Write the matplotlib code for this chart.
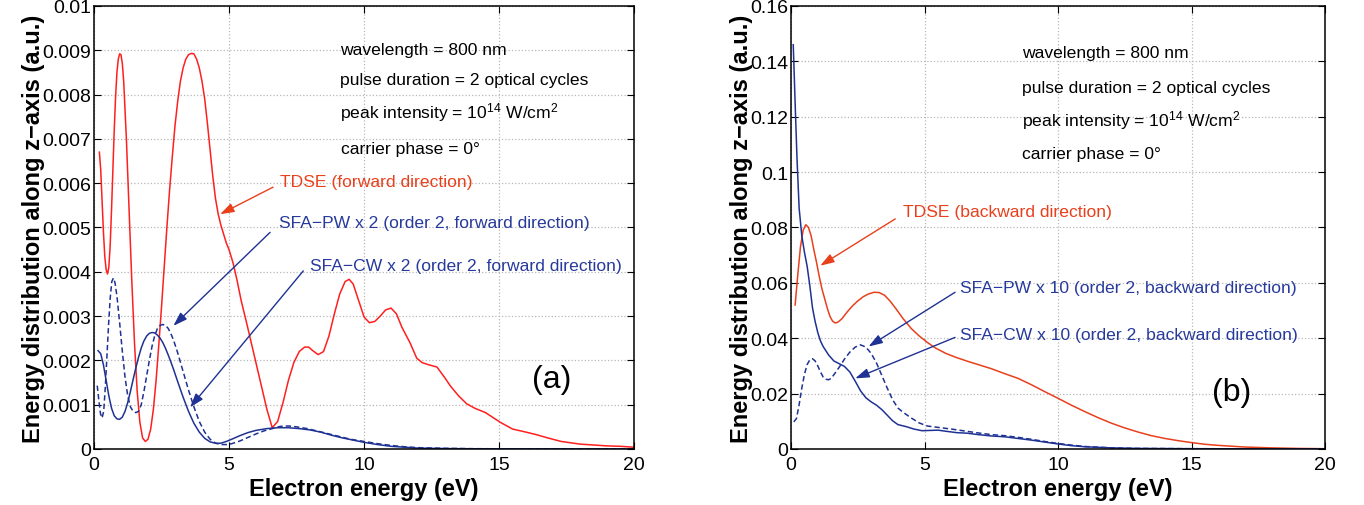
import numpy as np
import matplotlib
matplotlib.use('Agg')
import matplotlib.pyplot as plt

plt.rcParams['font.family'] = ['Liberation Sans', 'DejaVu Sans']
plt.rcParams['mathtext.fontset'] = 'custom'
plt.rcParams['mathtext.rm'] = 'Liberation Sans'
plt.rcParams['mathtext.it'] = 'Liberation Sans:italic'
plt.rcParams['mathtext.bf'] = 'Liberation Sans:bold'

# ---- panel (a): forward direction, y values in units of 1e-3 a.u.
a_tdse_x = [0.20, 0.25, 0.30, 0.35, 0.40, 0.45, 0.50, 0.55, 0.60, 0.65, 0.70, 0.75, 0.80, 0.85,
            0.90, 0.95, 1.00, 1.05, 1.10, 1.20, 1.30, 1.40, 1.50, 1.60, 1.70, 1.80, 1.90, 2.00,
            2.10, 2.20, 2.30, 2.40, 2.50, 2.60, 2.70, 2.80, 2.90, 3.00, 3.10, 3.20, 3.30, 3.40,
            3.50, 3.60, 3.70, 3.80, 3.90, 4.00, 4.10, 4.20, 4.30, 4.40, 4.50, 4.60, 4.70, 4.80,
            4.90, 5.00, 5.15, 5.30, 5.45, 5.65, 5.90, 6.15, 6.40, 6.60, 6.80, 7.00, 7.20, 7.40,
            7.60, 7.80, 7.95, 8.10, 8.30, 8.50, 8.70, 8.90, 9.10, 9.30, 9.45, 9.60, 9.80, 10.00,
            10.20, 10.40, 10.60, 10.80, 11.00, 11.20, 11.40, 11.70, 11.95, 12.15, 12.40, 12.70,
            13.00, 13.20, 13.50, 13.80, 14.10, 14.50, 14.80, 15.05, 15.50, 16.00, 16.40, 16.80,
            17.30, 18.00, 18.50, 19.00, 19.50, 20.00]
a_tdse_y = [6.70, 6.30, 5.60, 4.90, 4.35, 4.05, 3.95, 4.10, 4.60, 5.40, 6.30, 7.20, 7.95, 8.50,
            8.80, 8.92, 8.90, 8.70, 8.30, 7.00, 5.40, 3.80, 2.40, 1.30, 0.60, 0.25, 0.17, 0.22,
            0.45, 0.90, 1.55, 2.35, 3.20, 4.10, 5.00, 5.85, 6.60, 7.30, 7.85, 8.30, 8.60, 8.80,
            8.90, 8.93, 8.92, 8.80, 8.60, 8.30, 7.90, 7.35, 6.75, 6.15, 5.65, 5.30, 5.05, 4.85,
            4.65, 4.50, 4.20, 3.80, 3.35, 2.85, 2.20, 1.55, 0.90, 0.48, 0.62, 1.05, 1.55, 1.95,
            2.20, 2.30, 2.30, 2.22, 2.13, 2.20, 2.55, 3.05, 3.50, 3.78, 3.83, 3.72, 3.35, 2.98,
            2.85, 2.88, 3.00, 3.14, 3.18, 3.05, 2.75, 2.40, 2.05, 1.95, 1.90, 1.85,
            1.60, 1.42, 1.20, 1.02, 0.92, 0.82, 0.70, 0.60, 0.45, 0.38, 0.32, 0.25,
            0.17, 0.11, 0.09, 0.07, 0.06, 0.04]

a_cw_x = [0.15, 0.25, 0.35, 0.45, 0.55, 0.65, 0.75, 0.85, 0.95, 1.05, 1.15, 1.25, 1.35, 1.45,
          1.55, 1.65, 1.75, 1.85, 1.95, 2.05, 2.15, 2.25, 2.35, 2.45, 2.55, 2.65, 2.75, 2.85,
          2.95, 3.10, 3.30, 3.50, 3.70, 3.90, 4.10, 4.30, 4.50, 4.70, 4.90, 5.10, 5.40, 5.70,
          6.00, 6.40, 6.80, 7.20, 7.60, 8.00, 8.40, 8.80, 9.20, 9.60, 10.00, 10.50, 11.00,
          11.50, 12.00, 13.00, 14.00, 16.00, 20.00]
a_cw_y = [2.22, 2.15, 1.90, 1.55, 1.20, 0.92, 0.75, 0.68, 0.67, 0.72, 0.85, 1.05, 1.30, 1.57,
          1.83, 2.07, 2.28, 2.44, 2.55, 2.61, 2.63, 2.62, 2.57, 2.50, 2.40, 2.27, 2.12, 1.96,
          1.79, 1.52, 1.17, 0.85, 0.58, 0.38, 0.24, 0.16, 0.13, 0.13, 0.17, 0.22, 0.30, 0.37,
          0.42, 0.46, 0.48, 0.48, 0.46, 0.43, 0.38, 0.31, 0.25, 0.20, 0.15, 0.10, 0.06,
          0.04, 0.02, 0.01, 0.005, 0.002, 0.0]

a_pw_x = [0.12, 0.18, 0.24, 0.30, 0.36, 0.42, 0.48, 0.54, 0.60, 0.66, 0.72, 0.78, 0.85, 0.95,
          1.05, 1.15, 1.25, 1.35, 1.45, 1.55, 1.65, 1.75, 1.85, 1.95, 2.05, 2.15, 2.25, 2.35,
          2.45, 2.55, 2.65, 2.75, 2.85, 2.95, 3.10, 3.30, 3.50, 3.70, 3.90, 4.10, 4.30, 4.50,
          4.70, 4.90, 5.10, 5.40, 5.70, 6.00, 6.30, 6.60, 6.90, 7.20, 7.50, 7.90, 8.30, 8.70,
          9.10, 9.50, 10.00, 10.50, 11.00, 11.50, 12.00, 13.00, 14.00, 16.00, 20.00]
a_pw_y = [1.43, 1.10, 0.80, 0.70, 0.85, 1.40, 2.10, 2.80, 3.40, 3.78, 3.86, 3.75, 3.45, 2.85,
          2.20, 1.62, 1.20, 0.95, 0.85, 0.82, 0.85, 1.00, 1.30, 1.65, 2.00, 2.32, 2.56, 2.72,
          2.79, 2.81, 2.79, 2.72, 2.60, 2.45, 2.17, 1.75, 1.33, 0.95, 0.62, 0.38, 0.22, 0.13,
          0.10, 0.10, 0.12, 0.18, 0.26, 0.34, 0.41, 0.46, 0.51, 0.52, 0.50, 0.46, 0.40, 0.34,
          0.28, 0.22, 0.17, 0.12, 0.08, 0.05, 0.03, 0.015, 0.007, 0.002, 0.0]

# ---- panel (b): backward direction, y in a.u.
b_tdse_x = [0.15, 0.25, 0.35, 0.45, 0.55, 0.65, 0.75, 0.85, 0.95, 1.05, 1.15, 1.25, 1.35, 1.45,
            1.55, 1.65, 1.75, 1.90, 2.10, 2.30, 2.50, 2.70, 2.90, 3.10, 3.30, 3.50, 3.70, 3.90,
            4.20, 4.50, 4.80, 5.10, 5.40, 5.80, 6.20, 6.60, 7.00, 7.50, 8.00, 8.50, 9.00, 9.50,
            10.0, 10.5, 11.0, 11.5, 12.0, 12.5, 13.0, 13.5, 14.0, 14.5, 15.0, 15.5, 16.0, 16.5,
            17.0, 18.0, 19.0, 20.0]
b_tdse_y = [0.052, 0.063, 0.073, 0.079, 0.081, 0.080, 0.077, 0.072, 0.0675, 0.0625, 0.058,
            0.0545, 0.051, 0.048, 0.0462, 0.0455, 0.0458, 0.047, 0.0495, 0.0517, 0.0535, 0.055,
            0.056, 0.0566, 0.0565, 0.0555, 0.0535, 0.051, 0.047, 0.0435, 0.0408, 0.0385, 0.0365,
            0.0345, 0.033, 0.0317, 0.0305, 0.029, 0.0272, 0.0255, 0.0232, 0.0207, 0.0183,
            0.0158, 0.0135, 0.0113, 0.0093, 0.0076, 0.0061, 0.0048, 0.0038, 0.0030, 0.0023,
            0.0017, 0.0013, 0.0010, 0.0007, 0.0004, 0.0002, 0.0001]

b_cw_x = [0.08, 0.15, 0.22, 0.30, 0.40, 0.50, 0.60, 0.70, 0.80, 0.90, 1.00, 1.10, 1.20, 1.40,
          1.60, 1.80, 2.00, 2.20, 2.40, 2.60, 2.80, 3.00, 3.20, 3.40, 3.60, 3.80, 4.00, 4.30,
          4.60, 4.90, 5.20, 5.50, 5.80, 6.20, 6.60, 7.00, 7.50, 8.00, 8.50, 9.00, 9.50, 10.0,
          10.5, 11.0, 12.0, 13.0, 15.0, 20.0]
b_cw_y = [0.146, 0.125, 0.105, 0.087, 0.077, 0.071, 0.066, 0.059, 0.051, 0.046, 0.042, 0.039,
          0.037, 0.034, 0.0318, 0.0308, 0.0298, 0.0278, 0.0245, 0.021, 0.0185, 0.017, 0.0158,
          0.0142, 0.0122, 0.0102, 0.0088, 0.0081, 0.0072, 0.0066, 0.0067, 0.0068, 0.0064,
          0.0059, 0.0057, 0.0052, 0.0047, 0.0044, 0.0038, 0.0032, 0.0025, 0.0018, 0.0012,
          0.0008, 0.0004, 0.0002, 0.0001, 0.0]

b_pw_x = [0.10, 0.20, 0.30, 0.40, 0.50, 0.60, 0.70, 0.80, 0.90, 1.00, 1.10, 1.20, 1.30, 1.40,
          1.50, 1.60, 1.80, 2.00, 2.20, 2.40, 2.60, 2.80, 3.00, 3.20, 3.40, 3.60, 3.80, 4.00,
          4.20, 4.50, 4.80, 5.10, 5.50, 6.00, 6.50, 7.00, 7.50, 8.00, 8.50, 9.00, 9.50, 10.0,
          10.5, 11.0, 12.0, 13.0, 15.0, 20.0]
b_pw_y = [0.0098, 0.011, 0.016, 0.022, 0.027, 0.0305, 0.0322, 0.0326, 0.0318, 0.030, 0.0278,
          0.026, 0.0252, 0.025, 0.0255, 0.0268, 0.0295, 0.0325, 0.035, 0.0368, 0.0376, 0.0368,
          0.0345, 0.031, 0.0265, 0.022, 0.0178, 0.0148, 0.0132, 0.0112, 0.0094, 0.0083,
          0.0078, 0.0072, 0.0065, 0.0058, 0.0052, 0.0048, 0.0042, 0.0035, 0.0027, 0.0020,
          0.0014, 0.0009, 0.0004, 0.0002, 0.0001, 0.0]

info_lines = ['wavelength = 800 nm',
              'pulse duration = 2 optical cycles',
              'peak intensity = 10$^{14}$ W/cm$^{2}$',
              'carrier phase = 0\u00b0']

RED = '#ff1f1f'
RED2 = '#e8401c'
BLUE = '#1f3293'
BLUE_TXT = '#27399b'
FS = 12.6


def style_axes(ax, ymax, ystep):
    ax.set_xlim(0, 20)
    ax.set_ylim(0, ymax)
    ax.set_xticks([0, 5, 10, 15, 20])
    yt = np.round(np.arange(0, ymax + ystep / 2, ystep), 6)
    ax.set_yticks(yt)
    ax.set_yticklabels(['%g' % v for v in yt])
    ax.grid(True, linestyle=':', color='#b8b8b8', linewidth=0.9)
    ax.tick_params(direction='in', top=True, right=True, length=5, labelsize=14, pad=2)
    ax.tick_params(axis='x', pad=5)
    for s in ax.spines.values():
        s.set_linewidth(1.1)
    ax.set_xlabel('Electron energy (eV)', fontsize=17, fontweight='bold', labelpad=3)
    ax.set_ylabel('Energy distribution along z\u2212axis (a.u.)', fontsize=17,
                  fontweight='bold', labelpad=-2)


def arrow(ax, start, end, color):
    ax.annotate('', xy=end, xytext=start,
                arrowprops=dict(arrowstyle='-|>,head_length=0.6,head_width=0.2', color=color,
                                lw=1.0, mutation_scale=14, shrinkA=0, shrinkB=0))


fig = plt.figure(figsize=(13.64, 5.06), dpi=100)
ax1 = fig.add_axes([0.0689, 0.1107, 0.396, 0.8755])
ax2 = fig.add_axes([0.580, 0.1107, 0.3915, 0.8755])

# panel (a)
ax1.plot(a_tdse_x, np.array(a_tdse_y) * 1e-3, color=RED, lw=1.1)
ax1.plot(a_pw_x, np.array(a_pw_y) * 1e-3, color=BLUE, lw=1.1, ls=(0, (3.5, 2)))
ax1.plot(a_cw_x, np.array(a_cw_y) * 1e-3, color=BLUE, lw=1.1)
style_axes(ax1, 0.01, 0.001)
for i, (t, yb) in enumerate(zip(info_lines, [0.00892, 0.00824, 0.00749, 0.00668])):
    ax1.text(9.1 + (0.06 if i == 3 else 0), yb, t, fontsize=FS, va='baseline')
ax1.text(6.88, 0.00603, 'TDSE (forward direction)', color=RED2, fontsize=FS, va='center')
ax1.text(6.85, 0.00512, 'SFA\u2212PW x 2 (order 2, forward direction)', color=BLUE_TXT,
         fontsize=FS, va='center')
ax1.text(8.0, 0.00415, 'SFA\u2212CW x 2 (order 2, forward direction)', color=BLUE_TXT,
         fontsize=FS, va='center')
arrow(ax1, (6.63, 0.00591), (4.67, 0.0053), RED2)
arrow(ax1, (6.52, 0.00489), (2.94, 0.00278), BLUE)
arrow(ax1, (7.75, 0.00402), (3.56, 0.00094), BLUE)
ax1.text(16.95, 0.00158, '(a)', fontsize=23, ha='center', va='center')

# panel (b)
ax2.plot(b_tdse_x, b_tdse_y, color=RED2, lw=1.1)
ax2.plot(b_pw_x, b_pw_y, color=BLUE, lw=1.1, ls=(0, (3.5, 2)))
ax2.plot(b_cw_x, b_cw_y, color=BLUE, lw=1.1)
style_axes(ax2, 0.16, 0.02)
for t, yb in zip(info_lines, [0.1416, 0.1291, 0.1168, 0.1050]):
    ax2.text(8.65, yb, t, fontsize=FS, va='baseline')
ax2.text(4.19, 0.0856, 'TDSE (backward direction)', color=RED2, fontsize=FS, va='center')
ax2.text(6.33, 0.0585, 'SFA\u2212PW x 10 (order 2, backward direction)', color=BLUE_TXT,
         fontsize=FS, va='center')
ax2.text(6.33, 0.0415, 'SFA\u2212CW x 10 (order 2, backward direction)', color=BLUE_TXT,
         fontsize=FS, va='center')
arrow(ax2, (3.9, 0.0831), (1.09, 0.0662), RED2)
arrow(ax2, (6.14, 0.0566), (2.9, 0.037), BLUE)
arrow(ax2, (6.14, 0.0403), (2.4, 0.0255), BLUE)
ax2.text(16.5, 0.0205, '(b)', fontsize=23, ha='center', va='center')

fig.savefig('out.png', dpi=100)
